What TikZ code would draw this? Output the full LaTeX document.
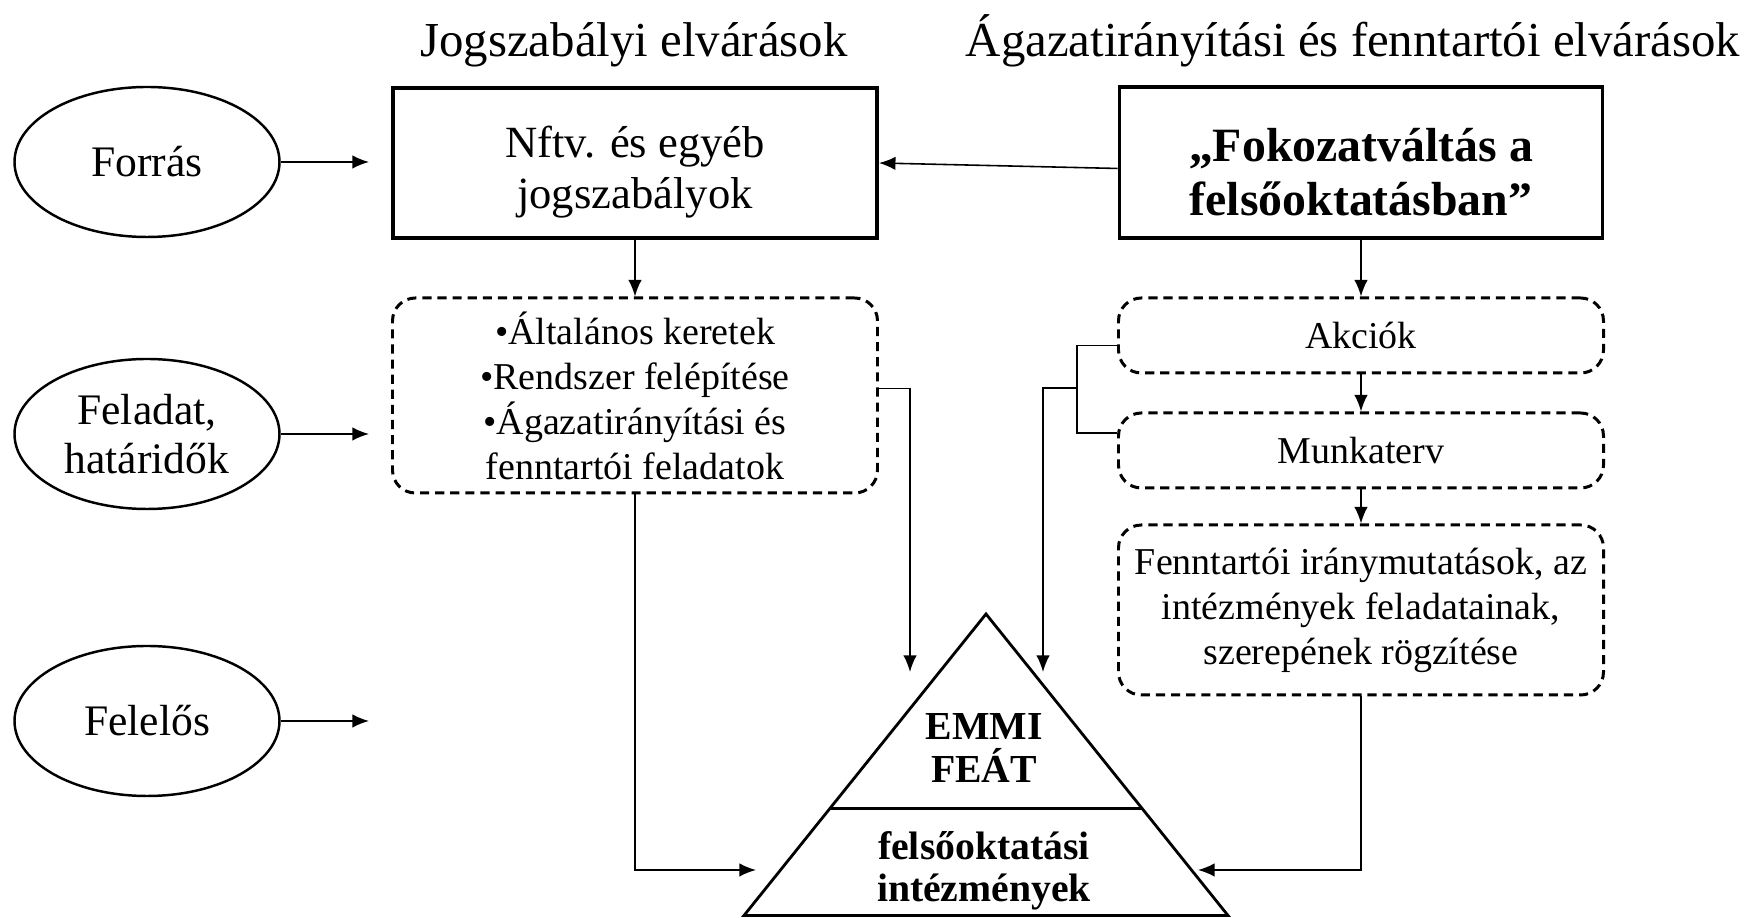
\documentclass[tikz,border=0pt]{standalone}
\usepackage{fontspec}
\setmainfont{Liberation Serif}
\usetikzlibrary{arrows.meta,shapes.geometric,calc}

\begin{document}
\begin{tikzpicture}[x=1cm,y=1cm,
  lvl/.style={draw,ellipse,line width=0.7pt,minimum width=2.65cm,minimum height=1.5cm,
    inner sep=0pt,align=center,font=\fontsize{12.4}{14}\selectfont},
  lawbox/.style={draw,line width=1.1pt,minimum width=4.84cm,minimum height=1.5cm,
    align=center},
  plan/.style={draw,dash pattern=on 2.6pt off 1.7pt,line width=0.85pt,rounded corners=6.5pt,
    minimum width=4.85cm,align=center,font=\fontsize{10.8}{12.8}\selectfont},
  tri/.style={align=center,font=\fontsize{11.3}{12}\selectfont\bfseries},
  title/.style={anchor=base,font=\fontsize{13.9}{15}\selectfont},
  arr/.style={-{Latex[length=4.7pt,width=3.8pt]},line width=0.45pt}]
\useasboundingbox (0,0) rectangle (17.48,9.18);
\node[title] (jtitle) at (6.34,8.61) {Jogszabályi elvárások};
\node[title] (atitle) at (13.53,8.61) {Ágazatirányítási és fenntartói elvárások};
% levels on the left
\foreach \n/\y/\lab in {src/7.56/Forrás,task/4.84/{Feladat,\\határidők},resp/1.97/Felelős}{
  \node[lvl] (\n) at (1.47,\y) {\lab};
  \coordinate (\n-in) at (3.69,\y);
  \draw[arr] (\n) -- (\n-in);
}
% upper boxes
\node[lawbox,font=\fontsize{12.7}{14.4}\selectfont] (nftv) at (6.35,7.55)
  {\rule{0pt}{14pt}Nftv. és egyéb\\jogszabályok};
\node[lawbox,minimum width=4.83cm,minimum height=1.51cm,
  font=\fontsize{13.6}{15.5}\selectfont\bfseries] (fok) at (13.61,7.555)
  {\rule{0pt}{15pt}„Fokozatváltás a\\felsőoktatásban”};
% dashed boxes
\node[plan,minimum height=1.95cm] (bul) at (6.35,5.225)
  {•Általános keretek\\•Rendszer felépítése\\•Ágazatirányítási és\\fenntartói feladatok};
\node[plan,minimum height=0.75cm] (akc) at (13.61,5.825) {Akciók};
\node[plan,minimum height=0.75cm] (munk) at (13.61,4.675) {Munkaterv};
\node[plan,minimum height=1.70cm] (fen) at (13.61,3.08)
  {Fenntartói iránymutatások, az\\intézmények feladatainak,\\szerepének rögzítése};
% pyramid
\coordinate (apex) at (9.86,3.04);
\coordinate (bl) at (7.44,0.025);
\coordinate (br) at (12.28,0.025);
\draw[line width=0.8pt,line join=miter] (apex) -- (bl) -- (br) -- cycle;
\draw[line width=1.1pt] ($(apex)!0.645!(bl)$) -- ($(apex)!0.645!(br)$);
\node[tri] (emmi) at (9.84,1.70) {EMMI\\FEÁT};
\node[tri] (foi) at (9.84,0.47) {felsőoktatási\\intézmények};
% arrow ends at the pyramid
\coordinate (tipL) at (9.10,2.46);
\coordinate (tipR) at (10.43,2.46);
\coordinate (botL) at (7.56,0.48);
\coordinate (botR) at (11.98,0.48);
\coordinate (brk) at (10.77,5.30);
% connectors
\draw[arr] ([yshift=-1.7pt]fok.west) -- (nftv.east);
\draw[arr] (nftv) -- (bul);
\draw[arr] (fok) -- (akc);
\draw[arr] (akc) -- (munk);
\draw[arr] (munk) -- (fen);
\draw[arr] ([yshift=2pt]bul.east) -| (tipL);
\draw[line width=0.45pt] ([yshift=-2.8pt]akc.west) -| (brk) |- ([yshift=5pt]munk.west);
\draw[arr] (brk) -| (tipR);
\draw[arr] (bul.south) |- (botL);
\draw[arr] (fen.south) |- (botR);
\end{tikzpicture}
\end{document}
